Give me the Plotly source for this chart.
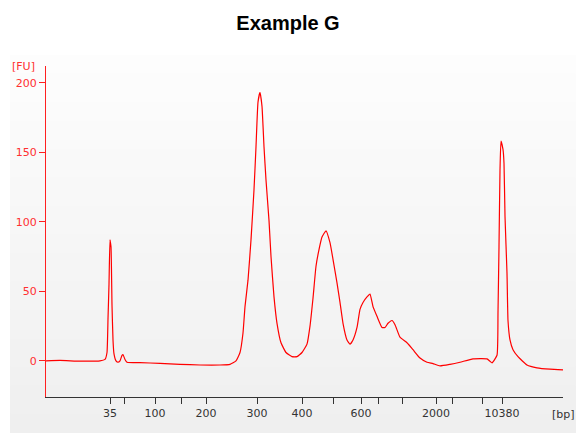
import plotly.graph_objects as go

# Migration time (s) and fluorescence (FU) of the electropherogram trace
time_s = [20.0, 21.4, 23.4, 25.4, 25.9, 26.1, 26.2, 26.3, 26.4, 26.5, 26.6, 26.7, 26.8,
          27.0, 27.2, 27.4, 27.6, 27.7, 27.9, 28.1, 29.4, 31.4, 33.4, 35.4, 37.4, 38.4,
          39.0, 39.4, 39.7, 39.9, 40.2, 40.5, 40.8, 41.0, 41.2, 41.4, 41.6, 41.8, 42.0,
          42.3, 42.5, 42.8, 43.1, 43.5, 44.0, 44.6, 45.1, 45.6, 46.1, 46.4, 46.7, 47.0,
          47.3, 47.6, 48.0, 48.4, 48.7, 49.1, 49.4, 49.7, 50.1, 50.4, 50.7, 51.1, 51.4,
          51.7, 52.1, 52.4, 52.7, 53.1, 53.6, 53.9, 54.2, 54.6, 54.9, 55.4, 56.1, 56.7,
          57.4, 58.1, 58.7, 59.4, 60.4, 61.4, 62.7, 64.1, 64.6, 65.1, 65.2, 65.3, 65.4,
          65.5, 65.7, 65.8, 65.9, 66.1, 66.2, 66.4, 66.7, 67.2, 68.1, 69.1, 70.4, 71.7]
fu = [0.0, 0.3, -0.2, 0.0, 1, 6, 30, 55, 87, 82, 40, 15, 5,
      0, -1, 0, 4, 4.5, 1, -1, -1.3, -1.8, -2.5, -3, -3, -2.5,
      0, 6, 20, 39, 58, 87, 123, 154, 186, 193, 183, 154, 130,
      101, 75, 46, 27, 13, 6, 3, 3, 6, 12, 25, 45, 68,
      80, 89, 93.5, 85, 73, 56, 42, 27, 15, 12, 15, 24, 37,
      42, 46, 48, 39, 32, 24, 24, 27, 29, 26, 17, 13, 8,
      2, -1, -2, -3.6, -2.5, -1, 1.4, 1.4, -1.4, 4, 35, 82, 137,
      158, 152, 142, 104, 63, 29, 15, 8, 3, -3, -5, -6, -6.5]

# Ladder sizes (bp) and their migration times
ladder_time = [26.4, 27.8, 30.9, 33.5, 36.0, 41.1, 45.6, 48.7, 51.5, 53.2, 55.6, 59.0, 60.6, 63.6, 65.6]
ladder_text = ["35", "", "100", "", "200", "300", "400", "", "600", "", "", "2000", "", "", "10380"]

y_ticks = [0, 50, 100, 150, 200]

fig = go.Figure()
fig.add_trace(go.Scatter(x=time_s, y=fu, mode="lines", line_shape="spline",
                         line=dict(color="#ff0000", width=1.2, smoothing=0.4), hoverinfo="skip"))

# gradient background bands
shapes = []
n = 40
x0p, x1p = -0.0696, 1.0251
ytop, ybot = 1.0332, -0.1088
c0 = (253, 253, 253)
c1 = (239, 239, 239)
for i in range(n):
    f = i / (n - 1)
    col = tuple(round(c0[k] + (c1[k] - c0[k]) * f) for k in range(3))
    ya = ytop + (ybot - ytop) * i / n
    yb = ytop + (ybot - ytop) * (i + 1) / n
    shapes.append(dict(type="rect", xref="paper", yref="paper", x0=x0p, x1=x1p,
                       y0=yb - 0.001, y1=ya + 0.001, fillcolor="rgb(%d,%d,%d)" % col,
                       line=dict(width=0), layer="below"))

fig.update_layout(
    width=576, height=433,
    margin=dict(l=46, r=13, t=66, b=36),
    paper_bgcolor="white", plot_bgcolor="rgba(0,0,0,0)",
    showlegend=False,
    shapes=shapes,
    title=dict(text="<b>Example G</b>", x=0.5, xanchor="center", y=0.947, yanchor="middle",
               font=dict(family="Liberation Sans", size=20, color="black")),
    xaxis=dict(range=[20, 71.7], tickmode="array", tickvals=ladder_time, ticktext=ladder_text,
               showgrid=False, zeroline=False, showline=True, linecolor="#333333", linewidth=1,
               ticks="outside", ticklen=6, tickcolor="#333333", tickwidth=1,
               tickfont=dict(family="DejaVu Sans", size=11, color="#333333")),
    yaxis=dict(range=[-26, 212], tickmode="array", tickvals=y_ticks,
               showgrid=False, zeroline=False, showline=True, linecolor="#ff2020", linewidth=1,
               ticks="outside", ticklen=6, tickcolor="#ff2020", tickwidth=1,
               tickfont=dict(family="DejaVu Sans", size=11, color="#ff3030")),
    annotations=[
        dict(text="[FU]", xref="paper", yref="paper", x=-0.0696, y=1.0, xanchor="left",
             yanchor="middle", showarrow=False,
             font=dict(family="DejaVu Sans", size=11, color="#ff3030")),
        dict(text="[bp]", xref="paper", yref="paper", x=1.0, y=-0.054, xanchor="center",
             yanchor="middle", showarrow=False,
             font=dict(family="DejaVu Sans", size=11, color="#333333")),
    ],
)

fig.write_html("out.html")
